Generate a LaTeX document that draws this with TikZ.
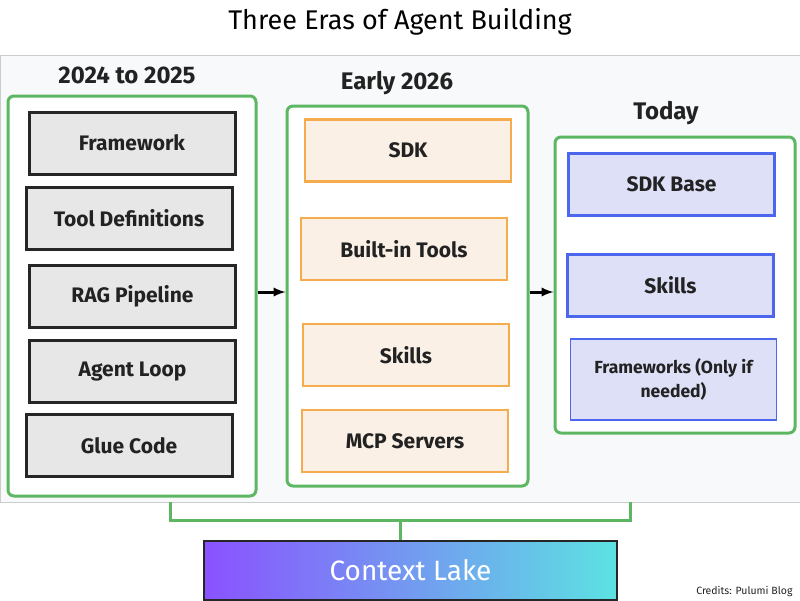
\documentclass[tikz,border=0pt]{standalone}
\usepackage{fontspec}
\setmainfont{Fira Sans}
\usetikzlibrary{positioning}
\usetikzlibrary{arrows}

\definecolor{eragreen}{HTML}{5DB762}
\definecolor{panelgray}{HTML}{F8F9FB}
\definecolor{oldfill}{HTML}{E7E7E7}
\definecolor{sdkorange}{HTML}{F4AC4C}
\definecolor{sdkfill}{HTML}{FAF0E6}
\definecolor{nowblue}{HTML}{4C66EE}
\definecolor{nowfill}{HTML}{DDE0F7}
\definecolor{lakepurple}{HTML}{8A52FF}
\definecolor{lakecyan}{HTML}{5CE2E2}
\definecolor{textdark}{HTML}{222222}

\begin{document}
\begin{tikzpicture}
[x=1pt,y=-1pt,
 era/.style={shape=rectangle,draw=eragreen,line width=3pt,rounded corners=6pt,fill=white},
 heading/.style={font=\fontsize{24}{28}\selectfont\bfseries,text=textdark},
 part/.style={shape=rectangle,line width=3pt,minimum width=206pt,minimum height=62pt,
   font=\fontsize{21}{25}\selectfont\bfseries,text=textdark,align=center},
 oldpart/.style={part,draw=black!85,fill=oldfill},
 sdkpart/.style={part,draw=sdkorange,line width=2.5pt,fill=sdkfill},
 nowpart/.style={part,draw=nowblue,fill=nowfill},
 flow/.style={draw=black,line width=3pt,-latex},
 bracket/.style={draw=eragreen,line width=3pt}]

\useasboundingbox (0,0) rectangle (800,600);

\node (title) at (400,22) [font=\fontsize{27}{32}\selectfont] {Three Eras of Agent Building};

\node (panel) at (400,278.5) [shape=rectangle,draw=black!20,line width=1pt,fill=panelgray,
	minimum width=800pt,minimum height=447pt] {};

% first era
\node (h1) at (127,75) [heading] {2024 to 2025};
\node (col1) at (132,296) [era,minimum width=248pt,minimum height=400pt] {};
\node (fw) at (132,143) [oldpart] {Framework};
\node (tooldef) at (129,218.5) [oldpart] {Tool Definitions};
\node (rag) at (132.5,296) [oldpart] {RAG Pipeline};
\node (loop) at (132.5,371.5) [oldpart] {Agent Loop};
\node (glue) at (129,445.5) [oldpart] {Glue Code};

% second era
\node (h2) at (397,83) [heading] {Early 2026};
\node (col2) at (407.5,296) [era,minimum width=241pt,minimum height=380pt] {};
\node (sdk) at (408,150.5) [sdkpart] {SDK};
\node (builtin) at (404,249) [sdkpart] {Built-in Tools};
\node (skills2) at (406,355) [sdkpart] {Skills};
\node (mcp) at (405,441) [sdkpart] {MCP Servers};

% third era
\node (h3) at (666,113) [heading] {Today};
\node (col3) at (675,285) [era,minimum width=240pt,minimum height=296pt] {};
\node (base) at (671.5,184) [nowpart] {SDK Base};
\node (skills3) at (670.5,285) [nowpart] {Skills};
\node (fwopt) at (673.5,379.5) [nowpart,line width=1.5pt,minimum height=81pt,
	font=\fontsize{17.5}{24}\selectfont\bfseries] {Frameworks (Only if\\needed)};

\coordinate (arr) at (0,292);
\draw [flow] (col1.east |- arr) -- (col2.west |- arr);
\draw [flow] (col2.east |- arr) -- (col3.west |- arr);

% shared base
\node (lake) at (410.5,570.5) [shape=rectangle,draw=black!85,line width=2pt,
	left color=lakepurple,right color=lakecyan,minimum width=413pt,minimum height=59pt,
	text=white,font=\fontsize{28}{33}\selectfont] {Context Lake};

\coordinate (brl) at (170,502);
\coordinate (brr) at (630,502);
\coordinate (stem) at (400,520);
\draw [bracket] (brl) |- (stem) -| (brr);
\draw [bracket] (stem) -- (stem |- lake.north);

\node (credit) at (796,592) [anchor=east,font=\fontsize{10.5}{12}\selectfont,text=textdark] {Credits: Pulumi Blog};

\end{tikzpicture}
\end{document}
